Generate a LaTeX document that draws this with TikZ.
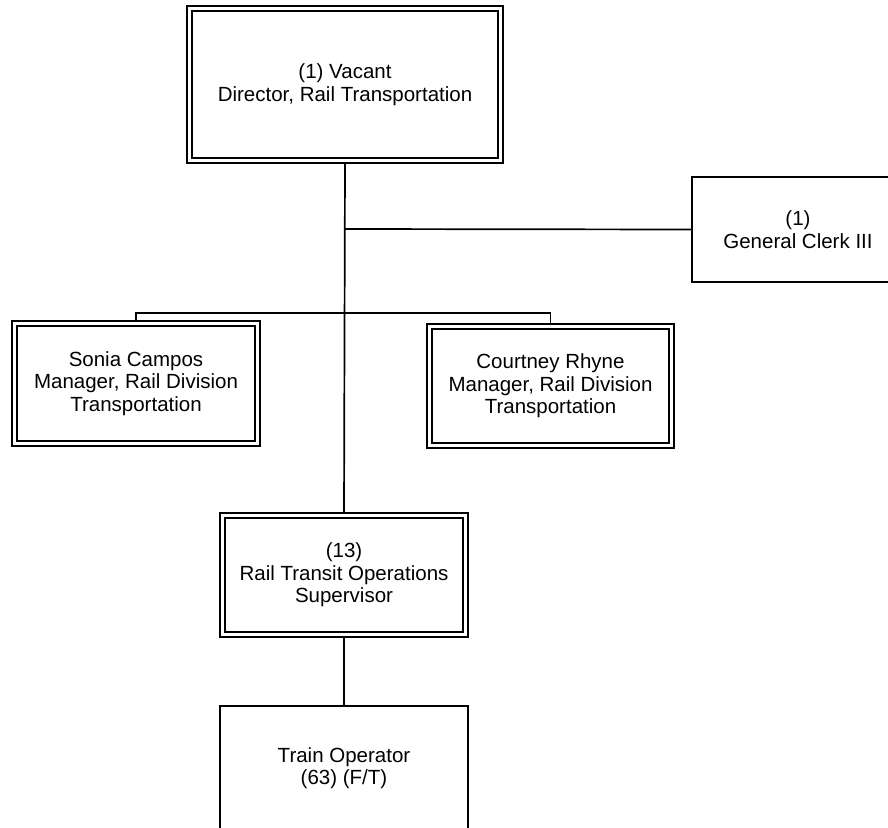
\documentclass[tikz,border=0pt]{standalone}
\usepackage{fontspec}
\setmainfont{Liberation Sans}
\usetikzlibrary{backgrounds}
\begin{document}
\begin{tikzpicture}[x=1pt,y=-1pt,
  txt/.style={font=\fontsize{20.5}{22.5}\selectfont},
  dbox/.style={draw, double, line width=1.4pt, double distance=3.6pt, inner sep=0pt, outer sep=0pt, align=center, txt},
  sbox/.style={draw, line width=1.6pt, fill=white, inner sep=0pt, outer sep=0pt, align=center, txt},
  conn/.style={line width=1.7pt}]
\useasboundingbox (0,0) rectangle (888,827);
\clip (0,0) rectangle (888,827);

\node[dbox, minimum width=311pt, minimum height=152pt] (dir) at (345,84.5)
  {(1) Vacant\\Director, Rail Transportation};
\node[sbox, minimum width=212pt, minimum height=105pt] (clerk) at (798,229.5)
  {(1)\\General Clerk III};
\node[dbox, minimum width=243pt, minimum height=120pt] (sonia) at (136,383.5)
  {Sonia Campos\\Manager, Rail Division\\Transportation};
\node[dbox, minimum width=242pt, minimum height=119pt] (court) at (550.5,386)
  {Courtney Rhyne\\Manager, Rail Division\\Transportation};
\node[dbox, minimum width=243pt, minimum height=119pt] (sup) at (344,575)
  {(13)\\Rail Transit Operations\\Supervisor};
\node[sbox, minimum width=248pt, minimum height=124pt] (train) at (344,768)
  {Train Operator\\(63) (F/T)};

\coordinate (j1) at (344,229);
\coordinate (j2) at (344,313);

\begin{pgfonlayer}{background}
\draw[conn] (dir.south) -- (sup.north);
\draw[conn] (j1) -- (clerk.west);
\draw[conn] (sonia.north) |- (j2) -| (court.north);
\draw[conn] (sup.south) -- (train.north);
\end{pgfonlayer}
\end{tikzpicture}
\end{document}
